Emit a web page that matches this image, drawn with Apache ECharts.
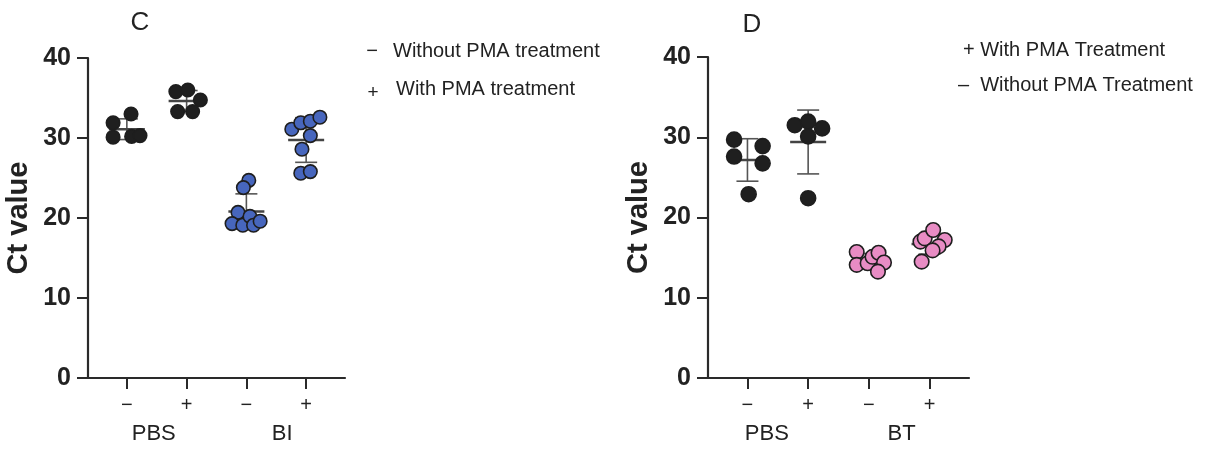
<!DOCTYPE html>
<html>
<head>
<meta charset="utf-8">
<script src="https://cdn.jsdelivr.net/npm/echarts@6/dist/echarts.min.js"></script>
<style>html,body{margin:0;padding:0;background:#fff;}#chart{width:1217px;height:449px;}</style>
</head>
<body>
<div id="chart"></div>
<script>
// ---------- data ----------
const tickPositions = [0, 1, 2, 3];
const tickLabels = ['\u2212', '+', '\u2212', '+'];
const leftGroupNames = ['PBS', 'BI'];
const leftGroupPos = [0.45, 2.6];
const rightGroupNames = ['PBS', 'BT'];
const rightGroupPos = [0.32, 2.54];
const yTicks = [0, 10, 20, 30, 40];

// Panel C
const cPbsMinus = [31.9, 33.0, 30.1, 30.2, 30.3];
const cPbsMinusJit = [-0.23, 0.07, -0.23, 0.08, 0.22];
const cPbsPlus = [35.8, 36.0, 34.75, 33.3, 33.3];
const cPbsPlusJit = [-0.18, 0.02, 0.23, -0.15, 0.1];
const cBiMinus = [24.7, 23.8, 20.7, 19.3, 19.1, 20.2, 19.1, 19.6];
const cBiMinusJit = [0.04, -0.05, -0.14, -0.24, -0.06, 0.06, 0.12, 0.23];
const cBiPlus = [31.1, 31.9, 32.1, 32.6, 30.3, 28.6, 25.6, 25.8];
const cBiPlusJit = [-0.24, -0.09, 0.07, 0.23, 0.07, -0.07, -0.09, 0.07];

// Panel D
const dPbsMinus = [29.7, 28.9, 27.6, 26.75, 22.9];
const dPbsMinusJit = [-0.22, 0.25, -0.22, 0.25, 0.02];
const dPbsPlus = [31.5, 31.95, 31.1, 30.1, 22.4];
const dPbsPlusJit = [-0.22, 0, 0.23, 0, 0];
const dBtMinus = [15.7, 14.1, 14.3, 15.1, 15.6, 14.4, 13.25];
const dBtMinusJit = [-0.2, -0.2, -0.02, 0.06, 0.16, 0.25, 0.15];
const dBtPlus = [17.0, 17.4, 18.45, 17.2, 16.4, 15.9, 14.5];
const dBtPlusJit = [-0.15, -0.08, 0.06, 0.25, 0.15, 0.05, -0.13];

// ---------- helpers ----------
function pts(vals, jit, g) { return vals.map((v, i) => [g + jit[i], v]); }
function stats(vals, g) {
  const n = vals.length, m = vals.reduce((a, b) => a + b, 0) / n;
  const sd = Math.sqrt(vals.reduce((a, b) => a + (b - m) * (b - m), 0) / (n - 1));
  return [g, m, sd];
}
const FONT = '"Liberation Sans", Arial, sans-serif';
const BAR = '#555';

function errSeries(gi, groups) {
  return {
    type: 'custom', xAxisIndex: gi * 2, yAxisIndex: gi, z: 1,
    data: groups,
    encode: { x: 0, y: 1 },
    renderItem: function (params, api) {
      const x = api.value(0), m = api.value(1), s = api.value(2);
      const pm = api.coord([x, m]), pt = api.coord([x, m + s]), pb = api.coord([x, m - s]);
      const st = { stroke: BAR, lineWidth: 1.6 };
      return { type: 'group', children: [
        { type: 'line', shape: { x1: pt[0], y1: pt[1], x2: pb[0], y2: pb[1] }, style: st },
        { type: 'line', shape: { x1: pt[0] - 11, y1: pt[1], x2: pt[0] + 11, y2: pt[1] }, style: st },
        { type: 'line', shape: { x1: pb[0] - 11, y1: pb[1], x2: pb[0] + 11, y2: pb[1] }, style: st },
        { type: 'line', shape: { x1: pm[0] - 18, y1: pm[1], x2: pm[0] + 18, y2: pm[1] }, style: { stroke: '#444', lineWidth: 2.6 } }
      ]};
    }
  };
}
function scat(gi, data, color, size) {
  return {
    type: 'scatter', xAxisIndex: gi * 2, yAxisIndex: gi, z: 3,
    data: data, symbolSize: size,
    itemStyle: { color: color, borderColor: '#1e1e1e', borderWidth: 1.6, opacity: 1 }
  };
}
function xAxes(gi, gNames, gPos) {
  return [
    { type: 'value', gridIndex: gi, position: 'bottom', min: -0.65, max: 3.65,
      splitLine: { show: false },
      axisLine: { show: true, onZero: false, lineStyle: { color: '#2a2a2a', width: 2.2 } },
      axisTick: { show: true, customValues: tickPositions, length: 11, lineStyle: { color: '#2a2a2a', width: 2 } },
      axisLabel: { customValues: tickPositions, margin: 17, fontSize: 20, color: '#222', fontFamily: FONT,
        formatter: v => tickLabels[tickPositions.indexOf(v)] || '' } },
    { type: 'value', gridIndex: gi, position: 'bottom', min: -0.65, max: 3.65,
      splitLine: { show: false }, axisLine: { show: false, onZero: false }, axisTick: { show: false },
      axisLabel: { customValues: gPos, margin: 45, fontSize: 22, color: '#222', fontFamily: FONT,
        formatter: v => gNames[gPos.indexOf(v)] || '' } }
  ];
}
function yAxis(gi) {
  return { type: 'value', gridIndex: gi, position: 'left', min: 0, max: 40, interval: 10,
    name: 'Ct value', nameLocation: 'middle', nameGap: 55, nameRotate: 90,
    nameTextStyle: { fontSize: 29, fontWeight: 'bold', color: '#222', fontFamily: FONT },
    splitLine: { show: false },
    axisLine: { show: true, onZero: false, lineStyle: { color: '#2a2a2a', width: 2.2 } },
    axisTick: { show: true, length: 11, lineStyle: { color: '#2a2a2a', width: 2 } },
    axisLabel: { margin: 17, fontSize: 25, fontWeight: 'bold', color: '#222', fontFamily: FONT,
      formatter: v => yTicks.indexOf(v) >= 0 ? String(v) : '' } };
}
function txt(x, y, s, size, align) {
  return { type: 'text', x: x, y: y, style: { text: s, fontSize: size, fontFamily: FONT, fill: '#222',
    align: align || 'left', verticalAlign: 'middle' } };
}

const BLACK = '#1f1f1f', BLUE = '#4766bd', PINK = '#e88cc4';

const option = {
  animation: false,
  grid: [
    { left: 88, top: 58, width: 257, height: 320 },
    { left: 708, top: 57, width: 261, height: 321 }
  ],
  xAxis: [...xAxes(0, leftGroupNames, leftGroupPos), ...xAxes(1, rightGroupNames, rightGroupPos)],
  yAxis: [yAxis(0), yAxis(1)],
  series: [
    errSeries(0, [stats(cPbsMinus, 0), stats(cPbsPlus, 1), stats(cBiMinus, 2), stats(cBiPlus, 3)]),
    scat(0, pts(cPbsMinus, cPbsMinusJit, 0), BLACK, 13.5),
    scat(0, pts(cPbsPlus, cPbsPlusJit, 1), BLACK, 13.5),
    scat(0, pts(cBiMinus, cBiMinusJit, 2), BLUE, 13.5),
    scat(0, pts(cBiPlus, cBiPlusJit, 3), BLUE, 13.5),
    errSeries(1, [stats(dPbsMinus, 0), stats(dPbsPlus, 1), stats(dBtMinus, 2), stats(dBtPlus, 3)]),
    scat(1, pts(dPbsMinus, dPbsMinusJit, 0), BLACK, 15),
    scat(1, pts(dPbsPlus, dPbsPlusJit, 1), BLACK, 15),
    scat(1, pts(dBtMinus, dBtMinusJit, 2), PINK, 14.5),
    scat(1, pts(dBtPlus, dBtPlusJit, 3), PINK, 14.5)
  ],
  graphic: [
    txt(140, 23, 'C', 26, 'center'),
    txt(752, 25, 'D', 26, 'center'),
    txt(372, 51, '\u2212', 20, 'center'),
    txt(393, 51, 'Without PMA treatment', 20),
    txt(373, 93, '+', 19, 'center'),
    txt(396, 89, 'With PMA treatment', 20),
    txt(963, 50, '+ With PMA Treatment', 20),
    txt(958, 85, '\u2013  Without PMA Treatment', 20)
  ]
};
echarts.init(document.getElementById('chart')).setOption(option);
</script>
</body>
</html>
